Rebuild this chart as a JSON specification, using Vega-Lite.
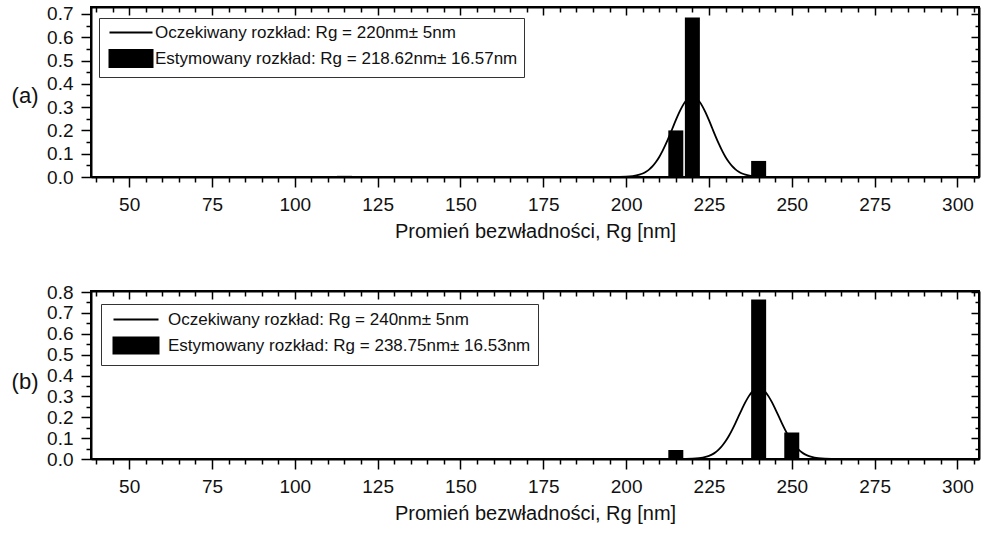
{
  "$schema": "https://vega.github.io/schema/vega-lite/v6.json",
  "padding": {"left": 10, "top": 3, "right": 5, "bottom": 0},
  "spacing": 40,
  "resolve": {"scale": {"color": "independent"}, "legend": {"color": "independent"}},
  "config": {
    "font": "Liberation Sans",
    "view": {"stroke": "black", "strokeWidth": 2},
    "axis": {"grid": false, "domainColor": "black", "domainWidth": 2, "tickColor": "black", "tickWidth": 1.5, "labelColor": "#111", "titleColor": "#111", "labelFont": "Liberation Sans", "titleFont": "Liberation Sans"},
    "legend": {"labelFont": "Liberation Sans"}
  },
  "datasets": {
    "barsA": [
      {"r": 115, "p": 0.005},
      {"r": 215, "p": 0.2},
      {"r": 220, "p": 0.685},
      {"r": 240, "p": 0.069}
    ],
    "curveA": [
      {"r": 40, "p": 0}, {"r": 196, "p": 0.0001}, {"r": 200, "p": 0.0013}, {"r": 202, "p": 0.0038},
      {"r": 204, "p": 0.0099}, {"r": 205, "p": 0.0151}, {"r": 206, "p": 0.0227}, {"r": 207, "p": 0.033},
      {"r": 208, "p": 0.0467}, {"r": 209, "p": 0.0643}, {"r": 210, "p": 0.086}, {"r": 211, "p": 0.112},
      {"r": 212, "p": 0.1418}, {"r": 213, "p": 0.1747}, {"r": 214, "p": 0.2092}, {"r": 215, "p": 0.2438},
      {"r": 216, "p": 0.2762}, {"r": 217, "p": 0.3045}, {"r": 218, "p": 0.3264}, {"r": 219, "p": 0.3402},
      {"r": 220, "p": 0.345}, {"r": 221, "p": 0.3402}, {"r": 222, "p": 0.3264}, {"r": 223, "p": 0.3045},
      {"r": 224, "p": 0.2762}, {"r": 225, "p": 0.2438}, {"r": 226, "p": 0.2092}, {"r": 227, "p": 0.1747},
      {"r": 228, "p": 0.1418}, {"r": 229, "p": 0.112}, {"r": 230, "p": 0.086}, {"r": 231, "p": 0.0643},
      {"r": 232, "p": 0.0467}, {"r": 233, "p": 0.033}, {"r": 234, "p": 0.0227}, {"r": 235, "p": 0.0151},
      {"r": 236, "p": 0.0099}, {"r": 238, "p": 0.0038}, {"r": 240, "p": 0.0013}, {"r": 244, "p": 0.0001},
      {"r": 305, "p": 0}
    ],
    "barsB": [
      {"r": 125, "p": 0.003},
      {"r": 215, "p": 0.043},
      {"r": 240, "p": 0.764},
      {"r": 250, "p": 0.127}
    ],
    "curveB": [
      {"r": 40, "p": 0}, {"r": 216, "p": 0.0001}, {"r": 220, "p": 0.0013}, {"r": 222, "p": 0.0038},
      {"r": 224, "p": 0.0097}, {"r": 225, "p": 0.0149}, {"r": 226, "p": 0.0223}, {"r": 227, "p": 0.0325},
      {"r": 228, "p": 0.046}, {"r": 229, "p": 0.0634}, {"r": 230, "p": 0.0848}, {"r": 231, "p": 0.1104},
      {"r": 232, "p": 0.1398}, {"r": 233, "p": 0.1721}, {"r": 234, "p": 0.2062}, {"r": 235, "p": 0.2402},
      {"r": 236, "p": 0.2722}, {"r": 237, "p": 0.3001}, {"r": 238, "p": 0.3216}, {"r": 239, "p": 0.3353},
      {"r": 240, "p": 0.34}, {"r": 241, "p": 0.3353}, {"r": 242, "p": 0.3216}, {"r": 243, "p": 0.3001},
      {"r": 244, "p": 0.2722}, {"r": 245, "p": 0.2402}, {"r": 246, "p": 0.2062}, {"r": 247, "p": 0.1721},
      {"r": 248, "p": 0.1398}, {"r": 249, "p": 0.1104}, {"r": 250, "p": 0.0848}, {"r": 251, "p": 0.0634},
      {"r": 252, "p": 0.046}, {"r": 253, "p": 0.0325}, {"r": 254, "p": 0.0223}, {"r": 255, "p": 0.0149},
      {"r": 256, "p": 0.0097}, {"r": 258, "p": 0.0038}, {"r": 260, "p": 0.0013}, {"r": 264, "p": 0.0001},
      {"r": 305, "p": 0}
    ]
  },
  "vconcat": [
    {
      "width": 888,
      "height": 170,
      "resolve": {"axis": {"x": "independent", "y": "independent"}},
      "layer": [
        {
          "data": {"name": "barsA"},
          "mark": {"type": "bar", "width": 15},
          "encoding": {
            "x": {"field": "r", "type": "quantitative", "scale": {"domain": [40, 305], "nice": false, "zero": false},
              "axis": {"orient": "bottom", "values": [40,45,50,55,60,65,70,75,80,85,90,95,100,105,110,115,120,125,130,135,140,145,150,155,160,165,170,175,180,185,190,195,200,205,210,215,220,225,230,235,240,245,250,255,260,265,270,275,280,285,290,295,300,305],
                "labelExpr": "datum.value % 25 === 0 ? datum.label : ''",
                "tickSize": {"condition": {"test": "datum.value % 25 === 0", "value": 10}, "value": 5},
                "labelFontSize": 19, "labelPadding": 8, "labelFlush": false, "labelOverlap": false,
                "title": "Promień bezwładności, Rg [nm]", "titleFontSize": 20, "titleFontWeight": "normal", "titlePadding": 7}},
            "y": {"field": "p", "type": "quantitative", "scale": {"domain": [0, 0.73], "nice": false},
              "axis": {"orient": "left", "values": [0,0.05,0.1,0.15,0.2,0.25,0.3,0.35,0.4,0.45,0.5,0.55,0.6,0.65,0.7],
                "labelExpr": "round(datum.value*100) % 10 === 0 ? format(datum.value, '.1f') : ''",
                "tickSize": {"condition": {"test": "round(datum.value*100) % 10 === 0", "value": 10}, "value": 5},
                "labelFontSize": 19, "labelPadding": 8, "labelOverlap": false, "labelFlush": false,
                "title": "(a)", "titleAngle": 0, "titleAlign": "right", "titleBaseline": "middle", "titleX": -53, "titleY": 88, "titleFontSize": 22, "titleFontWeight": "normal"}},
            "color": {"datum": "Estymowany rozkład: Rg = 218.62nm± 16.57nm", "type": "nominal",
              "scale": {"domain": ["Oczekiwany rozkład:  Rg = 220nm± 5nm", "Estymowany rozkład: Rg = 218.62nm± 16.57nm"], "range": ["black", "black"]},
              "legend": {"title": null, "orient": "none", "legendX": 8, "legendY": 11, "strokeColor": "#333", "padding": 6, "rowPadding": 5,
                "labelFontSize": 17, "labelColor": "#111", "labelOffset": 33, "labelLimit": 0, "symbolSize": 100,
                "encode": {
                  "entries": {"enter": {"width": {"value": 468}, "height": {"value": 18}, "fill": {"value": "transparent"}}, "update": {"width": {"value": 468}, "height": {"value": 18}, "fill": {"value": "transparent"}}},
                  "symbols": {"update": {
                    "shape": {"signal": "datum.index === 0 ? 'M-0.8,0H7.8' : 'M-0.8,-1.7H7.8V1.7H-0.8Z'"},
                    "fill": {"signal": "datum.index === 0 ? 'transparent' : 'black'"},
                    "stroke": {"value": "black"},
                    "strokeWidth": {"value": 2},
                    "opacity": {"value": 1}}}}}}
          }
        },
        {
          "data": {"name": "curveA"},
          "mark": {"type": "line", "strokeWidth": 1.8, "interpolate": "monotone"},
          "encoding": {
            "x": {"field": "r", "type": "quantitative", "scale": {"domain": [40, 305], "nice": false, "zero": false},
              "axis": {"orient": "top", "labels": false, "title": null, "values": [40,45,50,55,60,65,70,75,80,85,90,95,100,105,110,115,120,125,130,135,140,145,150,155,160,165,170,175,180,185,190,195,200,205,210,215,220,225,230,235,240,245,250,255,260,265,270,275,280,285,290,295,300,305],
                "tickSize": {"condition": {"test": "datum.value % 25 === 0", "value": -8}, "value": -5}}},
            "y": {"field": "p", "type": "quantitative", "scale": {"domain": [0, 0.73], "nice": false},
              "axis": {"orient": "right", "labels": false, "title": null, "values": [0,0.05,0.1,0.15,0.2,0.25,0.3,0.35,0.4,0.45,0.5,0.55,0.6,0.65,0.7],
                "tickSize": {"condition": {"test": "round(datum.value*100) % 10 === 0", "value": -8}, "value": -4}}},
            "color": {"datum": "Oczekiwany rozkład:  Rg = 220nm± 5nm", "type": "nominal"}
          }
        }
      ]
    },
    {
      "width": 888,
      "height": 168,
      "resolve": {"axis": {"x": "independent", "y": "independent"}},
      "layer": [
        {
          "data": {"name": "barsB"},
          "mark": {"type": "bar", "width": 15},
          "encoding": {
            "x": {"field": "r", "type": "quantitative", "scale": {"domain": [40, 305], "nice": false, "zero": false},
              "axis": {"orient": "bottom", "values": [40,45,50,55,60,65,70,75,80,85,90,95,100,105,110,115,120,125,130,135,140,145,150,155,160,165,170,175,180,185,190,195,200,205,210,215,220,225,230,235,240,245,250,255,260,265,270,275,280,285,290,295,300,305],
                "labelExpr": "datum.value % 25 === 0 ? datum.label : ''",
                "tickSize": {"condition": {"test": "datum.value % 25 === 0", "value": 10}, "value": 5},
                "labelFontSize": 19, "labelPadding": 8, "labelFlush": false, "labelOverlap": false,
                "title": "Promień bezwładności, Rg [nm]", "titleFontSize": 20, "titleFontWeight": "normal", "titlePadding": 7}},
            "y": {"field": "p", "type": "quantitative", "scale": {"domain": [0, 0.805], "nice": false},
              "axis": {"orient": "left", "values": [0,0.05,0.1,0.15,0.2,0.25,0.3,0.35,0.4,0.45,0.5,0.55,0.6,0.65,0.7,0.75,0.8],
                "labelExpr": "round(datum.value*100) % 10 === 0 ? format(datum.value, '.1f') : ''",
                "tickSize": {"condition": {"test": "round(datum.value*100) % 10 === 0", "value": 10}, "value": 5},
                "labelFontSize": 19, "labelPadding": 8, "labelOverlap": false, "labelFlush": false,
                "title": "(b)", "titleAngle": 0, "titleAlign": "right", "titleBaseline": "middle", "titleX": -53, "titleY": 90, "titleFontSize": 22, "titleFontWeight": "normal"}},
            "color": {"datum": "Estymowany rozkład: Rg = 238.75nm± 16.53nm", "type": "nominal",
              "scale": {"domain": ["Oczekiwany rozkład:  Rg = 240nm± 5nm", "Estymowany rozkład: Rg = 238.75nm± 16.53nm"], "range": ["black", "black"]},
              "legend": {"title": null, "orient": "none", "legendX": 10, "legendY": 13, "strokeColor": "#333", "padding": 7, "rowPadding": 5,
                "labelFontSize": 17, "labelColor": "#111", "labelOffset": 43, "labelLimit": 0, "symbolSize": 100,
                "encode": {
                  "entries": {"enter": {"width": {"value": 444}, "height": {"value": 18}, "fill": {"value": "transparent"}}, "update": {"width": {"value": 444}, "height": {"value": 18}, "fill": {"value": "transparent"}}},
                  "symbols": {"update": {
                    "shape": {"signal": "datum.index === 0 ? 'M-0.6,0H8.4' : 'M-0.6,-1.6H8.4V1.6H-0.6Z'"},
                    "fill": {"signal": "datum.index === 0 ? 'transparent' : 'black'"},
                    "stroke": {"value": "black"},
                    "strokeWidth": {"value": 2},
                    "opacity": {"value": 1}}}}}}
          }
        },
        {
          "data": {"name": "curveB"},
          "mark": {"type": "line", "strokeWidth": 1.8, "interpolate": "monotone"},
          "encoding": {
            "x": {"field": "r", "type": "quantitative", "scale": {"domain": [40, 305], "nice": false, "zero": false},
              "axis": {"orient": "top", "labels": false, "title": null, "values": [40,45,50,55,60,65,70,75,80,85,90,95,100,105,110,115,120,125,130,135,140,145,150,155,160,165,170,175,180,185,190,195,200,205,210,215,220,225,230,235,240,245,250,255,260,265,270,275,280,285,290,295,300,305],
                "tickSize": {"condition": {"test": "datum.value % 25 === 0", "value": -8}, "value": -5}}},
            "y": {"field": "p", "type": "quantitative", "scale": {"domain": [0, 0.805], "nice": false},
              "axis": {"orient": "right", "labels": false, "title": null, "values": [0,0.05,0.1,0.15,0.2,0.25,0.3,0.35,0.4,0.45,0.5,0.55,0.6,0.65,0.7,0.75,0.8],
                "tickSize": {"condition": {"test": "round(datum.value*100) % 10 === 0", "value": -8}, "value": -4}}},
            "color": {"datum": "Oczekiwany rozkład:  Rg = 240nm± 5nm", "type": "nominal"}
          }
        }
      ]
    }
  ]
}
